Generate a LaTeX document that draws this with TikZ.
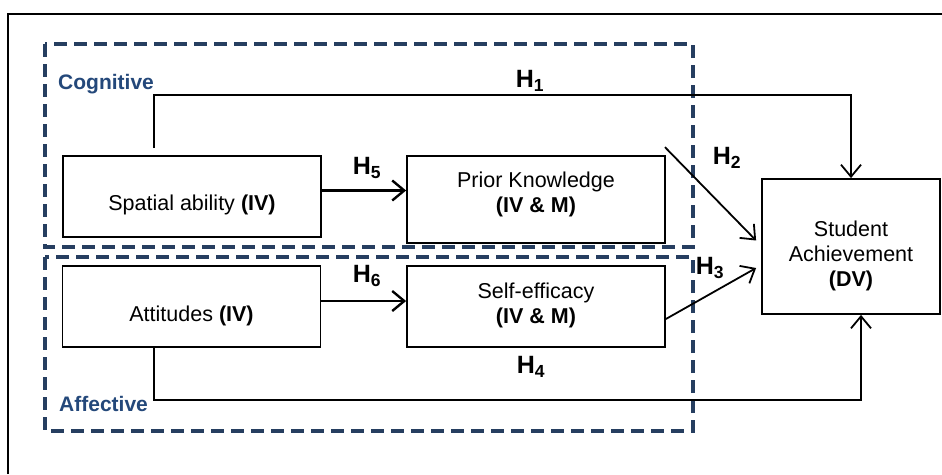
\documentclass[tikz,border=0pt]{standalone}
\usepackage{fontspec}
\setmainfont{Liberation Sans}
\usetikzlibrary{arrows.meta,calc}
\definecolor{dashblue}{RGB}{38,62,96}
\definecolor{labblue}{RGB}{36,72,122}
\tikzset{
  varbox/.style={draw, line width=1.8pt, minimum width=258pt, align=center, inner sep=2pt,
    font=\fontsize{21.5}{25}\selectfont},
  grpbox/.style={draw=dashblue, line width=4pt, dash pattern=on 13pt off 7pt},
  grplab/.style={anchor=west, text=labblue, font=\fontsize{21}{25}\selectfont\bfseries, inner sep=0pt},
  hlab/.style={font=\fontsize{25}{28}\selectfont\bfseries, inner sep=0pt},
  arr/.style={line width=1.8pt, -{Straight Barb[length=12pt,width=20pt,line width=1.8pt]}},
  arrthick/.style={line width=2.6pt, -{Straight Barb[length=12pt,width=20pt,line width=2.4pt]}},
}
\begin{document}
\begin{tikzpicture}[x=1pt,y=-1pt]
\useasboundingbox (0,0) rectangle (942,474);
% outer frame
\draw[line width=2pt] (8,474) -- (8,14) -- (942,14);
% dashed group boxes
\draw[grpbox] (45,44) rectangle (693,247);
\draw[grpbox] (45,257) rectangle (693,431);
\node[grplab] (cog) at (58,84) {Cognitive};
\node[grplab] (aff) at (59,404) {Affective};
% variable boxes
\node[varbox, minimum height=81pt] (spatial) at (192,196.5) {\rule{0pt}{32pt}Spatial ability \textbf{(IV)}};
\node[varbox, minimum height=87pt] (prior) at (536,199.5) {Prior Knowledge\\\textbf{(IV \& M)}\\[-11pt]\mbox{}};
\node[varbox, minimum height=81pt] (att) at (191.5,306.5) {\rule{0pt}{35pt}Attitudes \textbf{(IV)}};
\node[varbox, minimum height=81pt] (self) at (536,306.5) {Self-efficacy\\\textbf{(IV \& M)}\\[-19pt]\mbox{}};
\node[varbox, minimum width=178pt, minimum height=135pt] (stud) at (851,246.5) {\rule{0pt}{34pt}Student\\Achievement\\\textbf{(DV)}};
% connectors
\draw[arr] ([xshift=-38pt,yshift=7pt]spatial.north) -- ++(0,-53) -| (stud.north);
\draw[arr] ([xshift=-37.5pt]att.south) -- ++(0,52) -| ([xshift=10pt]stud.south);
\path ([yshift=6pt]spatial.east) coordinate (h5s);
\draw[arrthick] (h5s) -- (h5s -| prior.west);
\path ([yshift=5.5pt]att.east) coordinate (h6s);
\draw[arrthick] (h6s) -- (h6s -| self.west);
\draw[arr] ([xshift=-1pt,yshift=8pt]prior.north east) -- ([xshift=-5pt,yshift=6pt]stud.west);
\draw[arr] ([yshift=-12.5pt]self.east) -- ([xshift=-5pt,yshift=-21.5pt]stud.west);
% hypothesis labels
\node[hlab] (h1) at (530,81) {H\textsubscript{1}};
\node[hlab] (h2) at (727,158) {H\textsubscript{2}};
\node[hlab] (h3) at (710,268) {H\textsubscript{3}};
\node[hlab] (h4) at (531,367) {H\textsubscript{4}};
\node[hlab] (h5) at (367,168) {H\textsubscript{5}};
\node[hlab] (h6) at (367,276) {H\textsubscript{6}};
\end{tikzpicture}
\end{document}
